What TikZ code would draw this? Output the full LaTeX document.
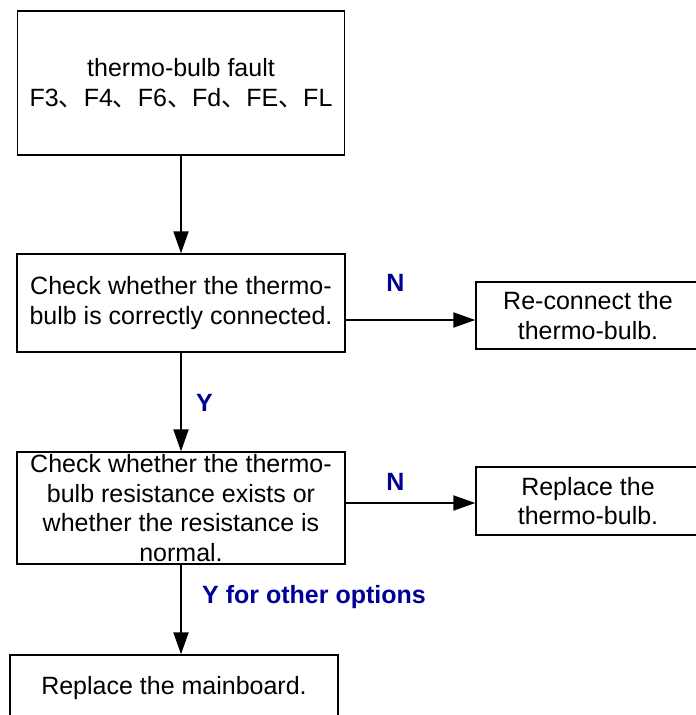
\documentclass[tikz,border=0pt]{standalone}
\usepackage{fontspec}
\setmainfont{Liberation Sans}
\newfontfamily\cjk{Noto Sans CJK SC}
\usepackage{tikz}
\usetikzlibrary{arrows.meta,positioning,calc}
\definecolor{labblue}{RGB}{0,0,150}
\newcommand{\dun}{{\cjk 、}}

\begin{document}
\begin{tikzpicture}[x=1pt,y=-1pt,
    box/.style={draw,line width=1.4pt,align=center,inner sep=0pt,
      font=\fontsize{25}{29.5}\selectfont},
    arr/.style={line width=2pt,-{Triangle[length=22pt,width=15pt]}},
    lab/.style={labblue,font=\fontsize{25}{29}\selectfont\bfseries}]
  \useasboundingbox (0,0) rectangle (696,715);
  \clip (0,0) rectangle (696,715);
  \node[box,minimum width=327pt,minimum height=144pt] (fault) at (181,83)
    {thermo-bulb fault\\F3\dun F4\dun F6\dun Fd\dun FE\dun FL};
  \node[box,minimum width=328pt,minimum height=98pt] (conn) at (181,303)
    {Check whether the thermo-\\bulb is correctly connected.};
  \node[box,minimum width=224pt,minimum height=67pt] (reconn) at (588,315.5)
    {Re-connect the\\thermo-bulb.};
  \node[box,minimum width=328pt,minimum height=112pt] (resist) at (181,508)
    {Check whether the thermo-\\bulb resistance exists or\\whether the resistance is\\normal.};
  \node[box,minimum width=224pt,minimum height=68pt] (repbulb) at (588,501)
    {Replace the\\thermo-bulb.};
  \node[box,minimum width=328pt,minimum height=90pt] (board) at (174,700)
    {Replace the mainboard.\\\phantom{x}};
  % connectors
  \draw[arr] (fault.south) -- (conn.north);
  \draw[arr] ([yshift=-17pt]conn.east) -- ([yshift=-4.5pt]reconn.west);
  \draw[arr] (conn.south) -- (resist.north);
  \draw[arr] ([yshift=5pt]resist.east) -- ([yshift=-2pt]repbulb.west);
  \draw[arr] (resist.south) -- (resist.south |- board.north);
  \node[lab] (n1) at (395.5,283) {N};
  \node[lab] (y1) at (204.5,403) {Y};
  \node[lab] (n2) at (395.5,482) {N};
  \node[lab,anchor=west,inner sep=0pt] (y2) at (202,597) {Y for other options};
\end{tikzpicture}
\end{document}
